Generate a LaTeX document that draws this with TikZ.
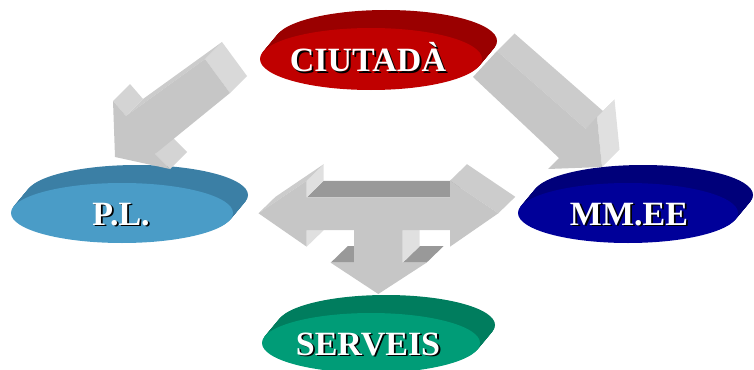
\documentclass[tikz,border=0pt]{standalone}
\usepackage{fontspec}
\setmainfont{Liberation Serif}
\definecolor{gF}{HTML}{C6C6C6}
\definecolor{gT}{HTML}{CCCCCC}
\definecolor{gL}{HTML}{E0E0E0}
\definecolor{gE}{HTML}{D9D9D9}
\definecolor{gB}{HTML}{D4D4D4}
\definecolor{gD}{HTML}{999999}
\definecolor{redF}{HTML}{C00000}
\definecolor{redS}{HTML}{9A0000}
\definecolor{bluF}{HTML}{4A9CC7}
\definecolor{bluS}{HTML}{3B7FA5}
\definecolor{navF}{HTML}{000099}
\definecolor{navS}{HTML}{00007A}
\definecolor{grnF}{HTML}{009C77}
\definecolor{grnS}{HTML}{007D5E}
\newcommand{\drawdisk}[6]{%
  \foreach \i in {20,...,1} {\fill[#6] ({#1+0.75*\i},{#2-0.9*\i}) ellipse [x radius=#3pt, y radius=#4pt];}
  \fill[#5] (#1,#2) ellipse [x radius=#3pt, y radius=#4pt];
}
\newcommand{\shtext}[1]{\makebox[0pt][l]{\hspace{1.8pt}\raisebox{-1.8pt}{\textcolor{black}{#1}}}#1}
\tikzset{
  lbl/.style={font=\fontsize{34}{34}\selectfont\bfseries, text=white, anchor=base, inner sep=0pt}
}
\begin{document}
\begin{tikzpicture}[x=1pt,y=-1pt]
\useasboundingbox (0,0) rectangle (754,369);
% disks
\drawdisk{371}{59}{111}{31}{redF}{redS}
\drawdisk{122}{213}{111}{30}{bluF}{bluS}
\drawdisk{628}{213}{110}{30}{navF}{navS}
\drawdisk{371}{343}{109}{30}{grnF}{grnS}
% labels
\node[lbl] (ciutada) at (368,71.5) {\shtext{CIUTADÀ}};
\node[lbl] (pl) at (121,225) {\shtext{P.L.}};
\node[lbl] (mmee) at (629,225) {\shtext{MM.EE}};
\node[lbl] (serveis) at (368,355) {\shtext{SERVEIS}};
% left arrow (CIUTADA -> P.L.)
\fill[gE] (205,59) -- (230,93) -- (247,76) -- (222,42) -- cycle;
\fill[gT] (126,116) -- (205,59) -- (222,42) -- (143,99) -- cycle;
\fill[gB] (113,101) -- (126,116) -- (143,99) -- (130,84) -- cycle;
\fill[gB] (155,154) -- (170,169) -- (187,152) -- (172,137) -- cycle;
\fill[gF] (205,59) -- (230,93) -- (155,154) -- (170,169) -- (115,157) -- (113,101) -- (126,116) -- cycle;
% right arrow (CIUTADA -> MM.EE)
\fill[gT] (497,51) -- (586,129) -- (603.5,111.5) -- (514.5,33.5) -- cycle;
\fill[gF] (586,129) -- (597,117) -- (614.5,99.5) -- (603.5,111.5) -- cycle;
\fill[gL] (597,117) -- (602,167) -- (619.5,149.5) -- (614.5,99.5) -- cycle;
\fill[gF] (497,51) -- (586,129) -- (597,117) -- (602,167) -- (548,169) -- (559,158) -- (473,77) -- cycle;
% middle T arrow
\fill[gD] (306.7,197.3) -- (450,197.3) -- (467,180.8) -- (323.7,180.8) -- cycle;
\fill[gD] (330.7,262.7) -- (354,262.7) -- (371,246.2) -- (347.7,246.2) -- cycle;
\fill[gD] (402.7,262.7) -- (426.5,262.7) -- (443.5,246.2) -- (419.7,246.2) -- cycle;
\fill[gL] (306.7,180.7) -- (306.7,197.3) -- (323.7,180.8) -- (323.7,164.2) -- cycle;
\fill[gL] (306.7,230) -- (306.7,246.7) -- (323.7,230.2) -- (323.7,213.5) -- cycle;
\fill[gL] (402.7,230) -- (402.7,262.7) -- (419.7,246.2) -- (419.7,213.5) -- cycle;
\fill[gT] (258.5,213.3) -- (306.7,180.7) -- (323.7,164.2) -- (275.5,196.8) -- cycle;
\fill[gT] (450,180.7) -- (498.3,213.3) -- (515.3,196.8) -- (467,164.2) -- cycle;
\fill[gF] (258.5,213.3) -- (306.7,180.7) -- (306.7,197.3) -- (450,197.3) -- (450,180.7)
  -- (498.3,213.3) -- (450,246.7) -- (450,230) -- (402.7,230) -- (402.7,262.7)
  -- (426.5,262.7) -- (378.3,294) -- (330.7,262.7) -- (354,262.7) -- (354,230)
  -- (306.7,230) -- (306.7,246.7) -- cycle;
\end{tikzpicture}
\end{document}
